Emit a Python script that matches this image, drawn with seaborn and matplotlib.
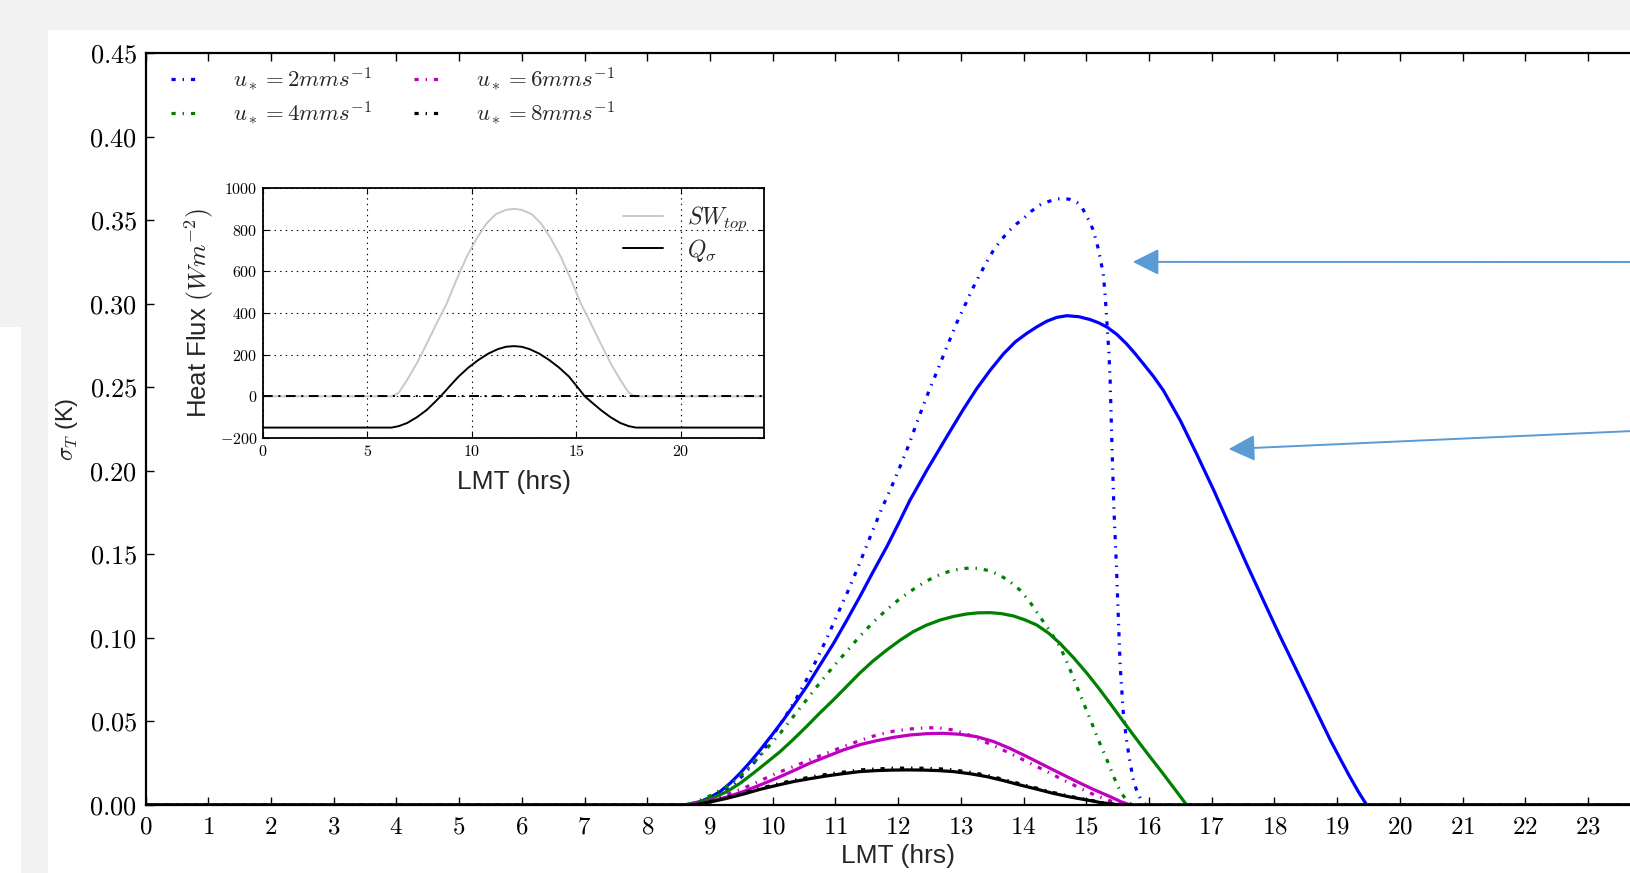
import numpy as np
import pandas as pd
import matplotlib
matplotlib.use("Agg")
import matplotlib.pyplot as plt
import seaborn as sns
from matplotlib.ticker import FuncFormatter
from matplotlib.patches import Rectangle

# ---------------- data ----------------
# main panel: sigma_T (K) vs LMT (hrs); "dd" = dash-dot, "sol" = solid
h_blue_dd = [0, 8.68, 8.84, 9.00, 9.14, 9.27, 9.40, 9.53, 9.67, 9.80, 9.93, 10.06, 10.22, 10.38,
             10.54, 10.70, 10.86, 11.02, 11.20, 11.39, 11.56, 11.74, 11.89, 12.03, 12.17, 12.30,
             12.43, 12.56, 12.70, 12.83, 12.94, 13.04, 13.18, 13.31, 13.42, 13.52, 13.65, 13.78,
             13.89, 14.00, 14.13, 14.26, 14.37, 14.47, 14.55, 14.63, 14.74, 14.85, 14.94, 15.01,
             15.06, 15.11, 15.19, 15.27, 15.30, 15.33, 15.36, 15.38, 15.41, 15.44, 15.48, 15.54,
             15.59, 15.64, 15.70, 15.75, 15.80, 15.86, 15.92, 15.96, 24]
v_blue_dd = [0, 0, 0.001, 0.003, 0.0055, 0.009, 0.013, 0.018, 0.0237, 0.030, 0.037, 0.045, 0.054,
             0.064, 0.075, 0.087, 0.0995, 0.113, 0.128, 0.145, 0.161, 0.1775, 0.190, 0.2025, 0.2155,
             0.229, 0.242, 0.254, 0.267, 0.279, 0.289, 0.297, 0.3085, 0.318, 0.3255, 0.332, 0.3385,
             0.344, 0.3478, 0.351, 0.3555, 0.359, 0.3608, 0.362, 0.3627, 0.363, 0.3624, 0.3605,
             0.357, 0.352, 0.3485, 0.344, 0.333, 0.318, 0.305, 0.288, 0.271, 0.254, 0.214, 0.177,
             0.143, 0.083, 0.055, 0.039, 0.025, 0.015, 0.009, 0.004, 0.001, 0, 0]

h_blue_sol = [0, 8.52, 8.68, 8.84, 9.00, 9.16, 9.32, 9.48, 9.64, 9.80, 9.98, 10.17, 10.35, 10.54,
              10.75, 10.97, 11.18, 11.39, 11.60, 11.82, 12.00, 12.19, 12.46, 12.65, 12.83, 13.04,
              13.25, 13.47, 13.68, 13.87, 14.05, 14.21, 14.37, 14.53, 14.69, 14.88, 15.06, 15.20,
              15.33, 15.49, 15.64, 15.78, 15.91, 16.07, 16.23, 16.50, 16.76, 17.03, 17.29, 17.55,
              17.82, 18.08, 18.35, 18.62, 18.89, 19.05, 19.20, 19.34, 19.47, 24]
v_blue_sol = [0, 0, 0.0005, 0.002, 0.0045, 0.008, 0.013, 0.019, 0.0257, 0.0329, 0.0415, 0.0509,
              0.0605, 0.0708, 0.0835, 0.0967, 0.1105, 0.1247, 0.1395, 0.1546, 0.168, 0.1825,
              0.2005, 0.2125, 0.2238, 0.2368, 0.2490, 0.2603, 0.2700, 0.2772, 0.2822, 0.2861,
              0.2895, 0.2918, 0.2928, 0.2922, 0.2905, 0.2885, 0.286, 0.2815, 0.276, 0.270, 0.264,
              0.2565, 0.248, 0.230, 0.210, 0.1885, 0.1666, 0.1447, 0.1227, 0.1017, 0.0808, 0.0598,
              0.0389, 0.0275, 0.017, 0.0078, 0, 0]

h_green_dd = [0, 8.65, 8.79, 9.03, 9.27, 9.48, 9.69, 9.90, 10.12, 10.33, 10.54, 10.75, 10.97,
              11.18, 11.39, 11.60, 11.82, 12.03, 12.24, 12.45, 12.67, 12.83, 12.99, 13.13, 13.28,
              13.45, 13.62, 13.78, 13.94, 14.10, 14.26, 14.42, 14.58, 14.72, 14.85, 14.98, 15.11,
              15.22, 15.33, 15.41, 15.48, 15.56, 15.64, 15.70, 15.75, 24]
v_green_dd = [0, 0, 0.002, 0.006, 0.011, 0.0175, 0.025, 0.0335, 0.043, 0.053, 0.063, 0.073, 0.083,
              0.092, 0.101, 0.1093, 0.117, 0.1235, 0.129, 0.134, 0.138, 0.140, 0.1412, 0.1418,
              0.1416, 0.1402, 0.1376, 0.1337, 0.1287, 0.1215, 0.1127, 0.104, 0.0948, 0.083, 0.0708,
              0.0588, 0.0469, 0.0365, 0.0269, 0.0195, 0.013, 0.007, 0.003, 0.001, 0, 0]

h_green_sol = [0, 8.60, 8.85, 9.06, 9.27, 9.48, 9.69, 9.90, 10.12, 10.33, 10.54, 10.75, 10.97,
               11.18, 11.39, 11.60, 11.82, 12.03, 12.24, 12.45, 12.67, 12.88, 13.09, 13.28, 13.47,
               13.65, 13.84, 14.02, 14.21, 14.40, 14.58, 14.80, 15.01, 15.20, 15.38, 15.56, 15.75,
               15.97, 16.18, 16.40, 16.60, 24]
v_green_sol = [0, 0, 0.002, 0.0045, 0.008, 0.013, 0.019, 0.0253, 0.032, 0.0393, 0.047, 0.055,
               0.063, 0.071, 0.079, 0.0862, 0.0928, 0.0986, 0.1037, 0.1076, 0.1107, 0.1128, 0.1143,
               0.1150, 0.1151, 0.1145, 0.1131, 0.1108, 0.1077, 0.1028, 0.0967, 0.088, 0.0788,
               0.0698, 0.0608, 0.0515, 0.0419, 0.031, 0.0209, 0.010, 0, 0]

h_mag_dd = [0, 8.65, 8.82, 9.00, 9.27, 9.53, 9.80, 10.06, 10.33, 10.59, 10.86, 11.13, 11.40,
            11.66, 11.93, 12.19, 12.46, 12.67, 12.88, 13.07, 13.25, 13.52, 13.78, 14.05, 14.32,
            14.58, 14.85, 15.06, 15.27, 15.45, 15.64, 24]
v_mag_dd = [0, 0, 0.0012, 0.003, 0.0062, 0.010, 0.0145, 0.019, 0.023, 0.027, 0.031, 0.035,
            0.0387, 0.0419, 0.0442, 0.0455, 0.0463, 0.0460, 0.0449, 0.0428, 0.0399, 0.0356, 0.031,
            0.026, 0.021, 0.016, 0.011, 0.0072, 0.004, 0.0015, 0, 0]

h_mag_sol = [0, 8.65, 8.82, 9.00, 9.27, 9.53, 9.80, 10.06, 10.33, 10.59, 10.86, 11.13, 11.40,
             11.66, 11.93, 12.19, 12.46, 12.72, 12.99, 13.25, 13.52, 13.78, 14.05, 14.32, 14.58,
             14.85, 15.12, 15.38, 15.55, 15.70, 24]
v_mag_sol = [0, 0, 0.001, 0.002, 0.0048, 0.008, 0.012, 0.016, 0.0205, 0.025, 0.029, 0.033,
             0.0362, 0.0385, 0.0405, 0.0419, 0.0427, 0.0429, 0.0423, 0.0409, 0.0380, 0.0339, 0.029,
             0.0239, 0.019, 0.014, 0.0092, 0.005, 0.002, 0, 0]

h_black = [0, 8.73, 9.00, 9.27, 9.54, 9.80, 10.07, 10.33, 10.60, 10.86, 11.13, 11.39, 11.66,
           11.92, 12.16, 12.40, 12.64, 12.88, 13.15, 13.41, 13.68, 13.94, 14.21, 14.47, 14.74,
           15.01, 15.22, 15.43, 15.64, 24]
v_black_sol = [0, 0, 0.0018, 0.004, 0.0066, 0.0094, 0.0118, 0.014, 0.0158, 0.0174, 0.0188, 0.020,
               0.0206, 0.0209, 0.0210, 0.0209, 0.0206, 0.020, 0.0187, 0.017, 0.0146, 0.012, 0.0095,
               0.007, 0.0048, 0.003, 0.0015, 0.0004, 0, 0]
v_black_dd = [0, 0, 0.002, 0.0045, 0.0072, 0.010, 0.0125, 0.0148, 0.0167, 0.0183, 0.0197, 0.021,
              0.0216, 0.022, 0.0221, 0.022, 0.0217, 0.021, 0.0196, 0.0178, 0.0153, 0.0127, 0.0101,
              0.0075, 0.0052, 0.0033, 0.0017, 0.0005, 0, 0]

legend_labels = [r"$u_* = 2mms^{-1}$", r"$u_* = 4mms^{-1}$",
                 r"$u_* = 6mms^{-1}$", r"$u_* = 8mms^{-1}$"]

# inset: heat flux (W m^-2) vs LMT (hrs)
h_sw = [0, 6.2, 6.5, 6.9, 7.37, 7.84, 8.31, 8.79, 9.26, 9.74, 10.21, 10.68, 11.15, 11.63, 12.0,
        12.37, 12.85, 13.32, 13.79, 14.26, 14.74, 15.21, 15.69, 16.16, 16.63, 17.1, 17.5, 17.8, 24]
v_sw = [0, 0, 18, 79, 160, 254, 350, 445, 560, 668, 755, 828, 875, 895, 900,
        895, 875, 828, 755, 668, 560, 445, 350, 254, 160, 79, 18, 0, 0]
h_q = [0, 6.15, 6.5, 6.9, 7.37, 7.84, 8.17, 8.5, 8.93, 9.36, 9.83, 10.3, 10.78, 11.25, 11.63, 12.0,
       12.37, 12.75, 13.22, 13.7, 14.17, 14.64, 15.02, 15.4, 15.78, 16.16, 16.63, 17.1, 17.5, 17.85,
       24]
v_q = [-150, -150, -143, -128, -100, -65, -33, 0, 48, 95, 138, 174, 205, 227, 238, 241,
       238, 227, 205, 174, 138, 95, 48, 0, -33, -65, -100, -128, -143, -150, -150]
zero_level = 0

main_xticks = list(range(0, 24))
main_yticks = [0.00, 0.05, 0.10, 0.15, 0.20, 0.25, 0.30, 0.35, 0.40, 0.45]
inset_xticks = [0, 5, 10, 15, 20]
inset_yticks = [-200, 0, 200, 400, 600, 800, 1000]

# ---------------- style ----------------
sns.set_theme(style="ticks")
plt.rcParams.update({
    "font.family": ["Liberation Sans", "DejaVu Sans"],
    "mathtext.fontset": "cm",
    "lines.scale_dashes": False,
    "lines.solid_joinstyle": "round",
    "lines.dash_joinstyle": "round",
    "axes.linewidth": 1.6,
    "axes.edgecolor": "black",
    "xtick.direction": "in",
    "ytick.direction": "in",
    "xtick.color": "black",
    "ytick.color": "black",
})

W, H = 1631, 873
fig = plt.figure(figsize=(W / 100, H / 100), dpi=100, facecolor="#f2f2f2")
fig.add_artist(Rectangle((48 / W, 0), 1 - 48 / W, (H - 30) / H, transform=fig.transFigure,
                         facecolor="white", edgecolor="none", zorder=-10))
fig.add_artist(Rectangle((0, 0), 21 / W, (H - 327) / H, transform=fig.transFigure,
                         facecolor="white", edgecolor="none", zorder=-10))

# main axes (extends slightly past the right edge, as in the screenshot)
ax = fig.add_axes([145.5 / W, 68 / H, 1505.3 / W, 752 / H])
ax.set_facecolor("white")

DD = (0, (3, 5, 1, 5))
LW = 2.3
series = [
    (h_blue_dd, v_blue_dd, h_blue_sol, v_blue_sol, "#0000ff"),
    (h_green_dd, v_green_dd, h_green_sol, v_green_sol, "#008000"),
    (h_mag_dd, v_mag_dd, h_mag_sol, v_mag_sol, "#bf00bf"),
    (h_black, v_black_dd, h_black, v_black_sol, "#000000"),
]
dd_handles = []
for (hd, vd, hs, vs, c), lab in zip(series, legend_labels):
    sns.lineplot(x=hs, y=vs, ax=ax, color=c, lw=LW, estimator=None, sort=False,
                 legend=False, zorder=3)
    sns.lineplot(x=hd, y=vd, ax=ax, color=c, lw=LW, linestyle=DD, estimator=None, sort=False,
                 legend=False, zorder=3)
    dd_handles.append(ax.lines[-1])

ax.set_xlim(0, 24)
ax.set_ylim(0, 0.45)
ax.set_xticks(main_xticks)
ax.set_yticks(main_yticks)
ax.xaxis.set_major_formatter(FuncFormatter(lambda v, p: r"$%d$" % round(v)))
ax.yaxis.set_major_formatter(FuncFormatter(lambda v, p: r"$%.2f$" % v))
ax.tick_params(axis="both", which="major", top=True, right=True, length=6, width=1,
               labelsize=19, pad=6)
ax.tick_params(axis="x", labelsize=18, pad=7)
for s in ax.spines.values():
    s.set_linewidth(1.6)
ax.set_xlabel("LMT (hrs)", fontsize=19, labelpad=4)
ax.set_ylabel(r"$\sigma_T$ (K)", fontsize=17, labelpad=7)

leg = ax.legend(dd_handles, legend_labels, loc="upper left", ncol=2, frameon=False,
                fontsize=16.5, handlelength=1.3, handletextpad=1.4, columnspacing=1.85,
                labelspacing=0.3, borderaxespad=0.0,
                bbox_to_anchor=(16 / 1505.3, 1 - 4 / 752))

# arrows (annotations pointing at the blue curves)
arrow_kw = dict(arrowstyle="-|>,head_length=0.9,head_width=0.45", color="#5b9bd5", lw=1.4,
                shrinkA=0, shrinkB=0, mutation_scale=18)
ax.annotate("", xy=(15.74, 0.325), xycoords="data", xytext=(W + 2, H - 262),
            textcoords="figure pixels", arrowprops=arrow_kw, annotation_clip=False)
ax.annotate("", xy=(17.27, 0.213), xycoords="data", xytext=(W + 2, H - 431),
            textcoords="figure pixels", arrowprops=arrow_kw, annotation_clip=False)

# ---------------- inset ----------------
ax2 = fig.add_axes([263 / W, 435 / H, 501.5 / W, 250 / H])
ax2.set_facecolor("white")
sns.lineplot(x=h_sw, y=v_sw, ax=ax2, color="#c8c8c8", lw=1.4, estimator=None, sort=False,
             legend=False, label=r"$SW_{top}$")
sns.lineplot(x=h_q, y=v_q, ax=ax2, color="black", lw=1.4, estimator=None, sort=False,
             legend=False, label=r"$Q_{\sigma}$")
ax2.axhline(zero_level, color="black", lw=1.4, linestyle=(0, (7, 4, 1.5, 4)))
ax2.set_xlim(0, 24)
ax2.set_ylim(-200, 1000)
ax2.set_xticks(inset_xticks)
ax2.set_yticks(inset_yticks)
ax2.xaxis.set_major_formatter(FuncFormatter(lambda v, p: r"$%d$" % round(v)))
ax2.yaxis.set_major_formatter(FuncFormatter(lambda v, p: r"$%d$" % round(v)))
ax2.tick_params(axis="both", top=True, right=True, length=4, width=0.8, labelsize=11.5, pad=4)
ax2.grid(True, color="black", linestyle=(0, (1, 3)), lw=0.8)
for s in ax2.spines.values():
    s.set_linewidth(1.3)
ax2.set_xlabel("LMT (hrs)", fontsize=19, labelpad=8)
ax2.set_ylabel(r"Heat Flux $(W m^{-2})$", fontsize=18.5, labelpad=3)
h1, l1 = ax2.get_legend_handles_labels()
ax2.legend(h1[:2], l1[:2], loc="upper right", frameon=False, fontsize=17, handlelength=1.7,
           handletextpad=1.0, labelspacing=0.15, borderaxespad=0.3)

fig.savefig("out.png", dpi=100, facecolor=fig.get_facecolor())
